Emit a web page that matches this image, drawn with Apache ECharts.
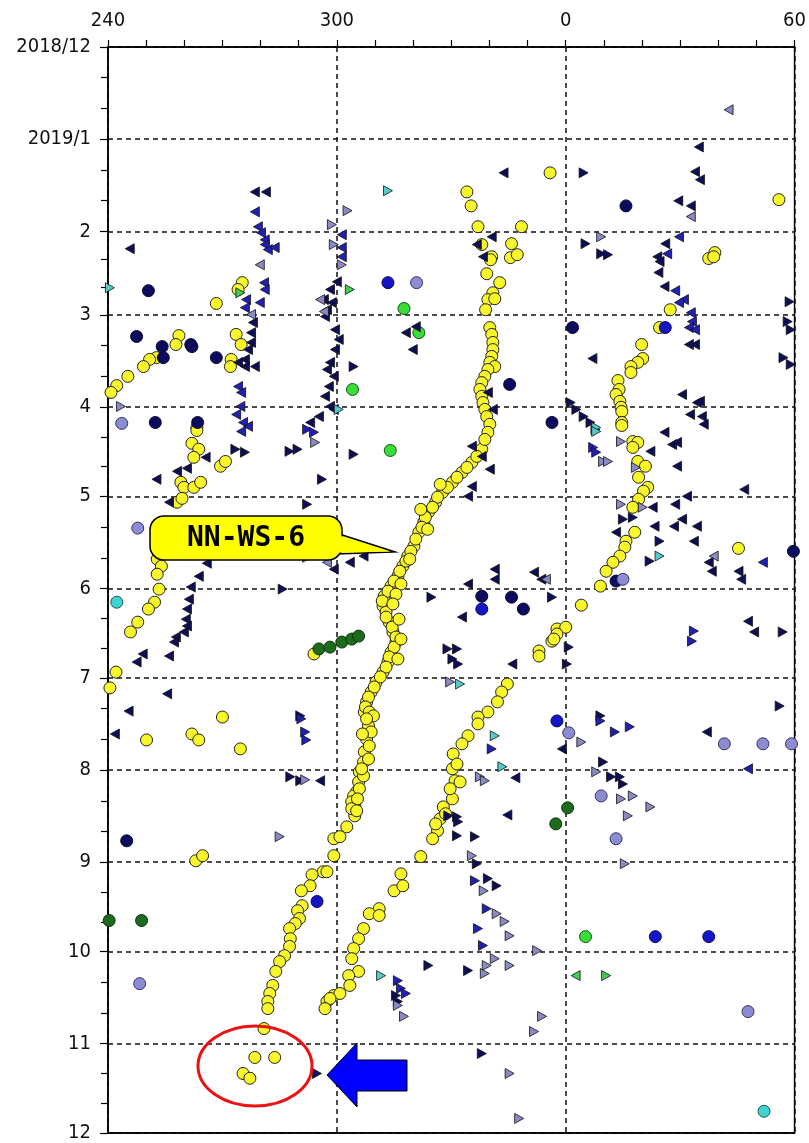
<!DOCTYPE html>
<html>
<head>
<meta charset="utf-8">
<script src="https://cdn.jsdelivr.net/npm/echarts@6/dist/echarts.min.js"></script>
<style>
html,body{margin:0;padding:0;background:#fff;}
#chart{width:809px;height:1143px;}
</style>
</head>
<body>
<div id="chart"></div>
<script>
// ---- axis labels ----
// y: days since 2018-12-01 (time runs downward)
var monthStarts = [0, 31, 62, 90, 121, 151, 182, 212, 243, 274, 304, 335, 365];
var monthLabels = ['2018/12', '2019/1', '2', '3', '4', '5', '6', '7', '8', '9', '10', '11', '12'];
// x: longitude ticks (wrapping through 0)
var lonTicks = [240, 300, 0, 60];

// ---- data: [longitude (deg), day since 2018-12-01] ----
var yellowCircles = [
  [355.9,42.3],[55.9,51.3],[37.5,71.1],[39.1,69.1],[38.8,70.5],[27.4,88.3],[24.6,94.3],[19.9,100],[20.2,104.7],[18.9,106],
  [17.1,107.4],[17.1,109.4],[13.7,112.1],[14,115.1],[13.2,116.8],[14.2,119.1],[14.5,121.1],[14.7,122.5],[14.7,126.2],
  [275.2,79.2],[274.1,81.5],[268.4,86.2],[258.6,97],[257.8,100],[252.7,104.4],[250.9,105],[249.3,107.4],[245.2,110.7],
  [242.3,113.8],[240.8,116.1],[273.6,96.6],[274.9,100],[272.3,105],[272.1,107.4],[263.3,127.9],
  [334.1,48.7],[335.2,53.4],[337,60.4],[348.4,60.4],[338,66.4],[340.6,70.5],[340.3,71.5],[345.8,66.1],[345.5,70.8],
  [347.3,69.8],[339.3,76.2],[342.7,79.2],[340.9,82.6],[339.6,84.9],[341.4,84.6],[339,88.3],
  [340.1,94.3],[340.6,96.6],[340.9,99.3],[340.9,101.7],[340.6,104],[340.1,106],[341.4,107.4],[339.6,108.4],[338.8,110.7],
  [338,112.8],[337.5,115.1],[338,117.4],[338.3,119.5],[338.8,121.8],[339.3,124.2],[340.1,126.8],
  [263.3,128.9],[262,133.2],[263.8,135.2],[262.5,137.9],[269.5,140.9],[270.8,139.3],[259.1,146.3],[259.9,148],[262.5,148],
  [264.3,146.3],[258.1,153],[259.4,151.7],[252.9,172.1],[254,174.5],[252.9,177.2],[253.4,182.2],[252.2,186.6],[250.6,188.9],
  [247.8,193.3],[245.9,196.6],[242.1,210.1],[240.5,215.4],[270,225.2],[294,204],
  [339.6,129.5],[338,135.2],[335.4,139.6],[332.8,143],[330.3,146.3],[327.7,149.7],[325.9,153],[324,156.4],[322.8,159.7],
  [321.5,163.1],[320.2,167.8],[318.6,171.1],[317.3,174.5],[316,177.9],[314.2,181.2],[312.4,184.6],[312.1,187.9],[312.9,189.9],
  [313.7,193.3],[314.7,196.6],[315.5,200],[314.2,203.4],[313.4,206.7],[312.1,210.1],[310.3,213.4],[309,216.8],[307.8,220.1],
  [307.2,223.5],
  [338.8,131.9],[336.7,137.6],[334.1,141.3],[331.5,144.6],[329,148],[326.4,151.3],[325.1,154.7],[323.2,158.1],[322.3,161.4],
  [320.7,165.4],[319.4,169.5],[318.1,172.8],[316.5,176.2],[315,179.5],[313.4,182.9],[311.9,186.2],[312.9,191.6],[314.5,195],
  [315.5,198.3],[315,201.7],[313.7,205],[312.9,208.4],[311.4,211.7],[309.8,215.1],[308.3,218.5],[307.5,221.8],
  [327.1,147],[322,155.4],[316.8,180.5],[323.8,162.1],[319.1,172.1],[315.5,183.9],[314.7,187.2],[316.3,192.3],[316.8,199],[316,205.7],
  [357.7,195.6],[356.4,199.7],[353,203],[353,204.7],[344.7,214.1],[343.2,216.8],[342.1,220.1],[339.6,223.5],[337,225.2],
  [14.7,127.2],[17.6,132.6],[18.9,132.9],[17.6,134.6],[18.9,139.3],[20.9,140.9],[19.1,144.6],[21.5,148],[20.4,149.3],
  [19.1,152],[17.6,154.7],[18.1,163.1],[15.8,166.1],[15.5,168.1],[14.2,171.1],[12.4,173.2],[10.6,176.2],[9.1,181.2],
  [4.1,187.6],[0,195],[357.7,197.3],[356.9,199],[45.3,168.5],
  [250.1,232.9],[262,230.9],[263.8,232.9],[274.7,235.9],[263,273.5],[264.8,271.8],
  [299.2,266.1],[299.2,271.8],[296.4,277.2],[293.5,278.2],[293,281.9],[290.7,283.6],[290.9,288.6],[289.7,290.3],[290.2,292.9],
  [289.1,294.6],[287.6,296.3],[287.8,299.7],[287.6,302.3],[286.3,305.4],[285,307.4],[284,310.7],[283.2,315.4],[282.4,318.1],
  [281.9,320.8],[297.4,320.8],[299.2,318.8],
  [308.5,223.5],[308.3,228.2],[307.8,232.6],[307.2,236.9],[307,240.3],[305.9,243.6],[305.7,247],[305.2,250.3],[304.7,255],
  [304.7,258.4],[309.6,224.8],[309,230.2],[308.5,234.9],[308.3,239.3],[307,245],[304.4,251.7],[303.9,253.7],[305.9,249.3],
  [302.6,262.1],[300.8,265.4],[297.4,277.2],[307.8,225.8],[306.7,230.9],[306.5,242.6],[305.4,252.7],[303.9,256],[305.2,256.7],
  [337,227.5],[334.4,231.5],[332.8,234.2],[330.5,237.6],[330.3,242.6],[331,246.6],[332.3,247],[330.3,252.7],[327.9,255.4],
  [327.1,259.4],[326.4,263.4],[325.1,266.1],[322,272.1],[331.5,241],[329.7,249.3],[328.5,257.7],[325.9,261.1],
  [316.8,277.9],[315,283.6],[317.3,281.9],[311.1,289.6],[308.5,291.3],[311.1,291.9],[307,296.3],[305.7,299.7],[304.4,303],
  [303.9,306.4],[305.7,310.7],[303.1,312.1],[303.4,315.4],[300.8,318.1],[298.2,319.8],
  [281.9,323.2],[296.9,323.2],[280.9,329.9],[278.5,339.6],[283.7,339.6],[275.4,345],[277.2,346.6]
];
var navyCircles = [
  [15.8,53.4],[1.8,94.3],[356.4,126.2],[250.6,81.9],[247.5,97.3],[254.2,100.7],[254.5,104.4],[261.7,100],[262,100.7],
  [268.4,104.4],[252.4,126.2],[263.5,126.2],[345.3,113.4],[338,184.6],[345.8,184.9],[348.9,188.9],[59.7,169.5],[13.2,179.5],
  [244.9,266.8]
];
var blueCircles = [
  [26.1,94.3],[313.4,79.2],[338,188.9],[294.8,287.2],[357.7,226.5],[23.5,299],[37.5,299]
];
var lavenderCircles = [
  [320.9,79.2],[243.6,126.5],[247.8,161.7],[15,178.9],[0.8,230.5],[41.6,234.2],[51.7,234.2],[59.2,234.2],[9.3,251.7],
  [13.2,266.1],[248.3,314.8],[47.8,324.2]
];
var greenCircles = [[317.6,87.9],[321.5,96],[304.1,115.1],[314,135.6],[5.2,299]];
var darkGreenCircles = [
  [295.3,202.3],[298.2,201.7],[301.3,200],[303.9,199],[305.7,198],[240.3,293.6],[248.8,293.6],[0.5,255.7],[357.4,261.1]
];
var cyanCircles = [[242.3,186.6],[52,357.7]];

var navyLeft = [
  [34.9,33.6],[343.7,42.3],[33.9,41.9],[35.2,44.6],[29.5,51.7],[32.8,53.4],[26.1,66.1],[24,70.5],[24.6,72.1],[24.3,75.8],
  [25.9,80.5],[32.3,100],[33.9,100],[7,104.7],[30.5,116.8],[34.4,119.5],[35.2,119.1],[32.6,123.5],[35.7,124.2],[36.2,126.8],
  [278.5,48.7],[281.4,48.7],[245.7,67.8],[278,92.6],[277.5,96],[277.5,99.3],[276.7,101.7],[275.9,105],[274.1,106],[275.9,107.4],
  [278.5,107.4],
  [300,78.9],[298.2,81.5],[296.6,84.9],[297.4,88.3],[298.7,85.9],[296.9,90.6],[299.5,95],[300.5,98.3],[299.5,101.7],[298.2,106],
  [297.4,108.4],[299.2,110.7],[297.9,114.1],[296.9,117.4],[298.2,120.8],[299.2,121.8],[293,126.2],[295.3,124.2],
  [336.7,66.4],[338.3,70.5],[340.6,63.8],[318.1,96],[320.7,94],[319.9,101.7],[339.6,116.1],[340.9,121.8],
  [252.7,145.3],[258.1,142.6],[260.7,141.6],[265.6,137.9],[256,153],[265.9,173.5],[263.8,177.9],[261.7,181.5],[261.2,185.6],
  [260.7,188.9],[260.4,192.3],[260.7,194.6],[259.9,196.6],[257.8,198.3],[257.3,200],[256,204.7],[249.1,204],[247.5,206.7],
  [255.5,217.4],[245.4,223.2],[241.8,230.9],
  [335.4,134.2],[338,137.6],[340.1,141.9],[335.4,147.7],[334.4,151],[299.2,175.5],[303.4,173.2],[307,171.1],[341.4,175.5],
  [341.4,178.9],[334.4,180.5],[332.8,191.6],[351.7,176.5],[353.6,178.9],[346,207.4],
  [22.2,135.9],[25.9,129.5],[27.9,133.6],[29.2,132.9],[29.2,140.9],[31.8,151],[28.7,153.7],[22.8,154.7],[30.5,158.7],
  [34.4,161.1],[23.3,161.1],[33.6,166.1],[28.4,161.1],[13.2,163.1],[37.5,173.2],[38.3,176.2],[45.3,176.2],[46,178.9],
  [46.8,148.7],[47.8,193],[49.4,196.6],
  [295.6,246.6],[346.8,245.6],[344.7,258.1],[359,235.9],[37,230.2]
];
var blueLeft = [
  [29.7,63.8],[26.6,69.5],[28.7,81.9],[31,84.9],[29.7,85.9],[32.8,89.3],[33.1,92.3],[32.3,94.3],[33.9,95],
  [278.5,55.4],[279.3,60.4],[280.1,62.4],[281.1,64.8],[281.1,66.4],[281.9,68.1],[283.7,67.4],[280.9,79.2],[281.1,81.5],
  [276.2,84.9],[275.9,87.6],[279.8,85.9],[274.1,114.1],[274.9,116.1],[274.7,120.8],[273.6,123.5],[275.4,126.2],[276.7,127.5],
  [274.9,129.2],[301.3,63.1],[301.3,67.4],[301.3,70.5],[51.7,173.2],[47.8,242.6]
];
var lavenderLeft = [
  [42.7,21.1],[32.8,57],[279.8,73.2],[277.5,89.9],[295.6,84.9],[296.6,88.9],[297.4,173.2],[38.8,171.1],[354.8,178.9]
];
var greenLeft = [[2.6,312.1]];

var navyRight = [
  [4.7,42.3],[5.2,66.1],[9.3,69.5],[11.1,69.8],[58.7,85.6],[58.2,92.3],[59,95],[57.1,104.4],[59,106.7],[1.3,119.5],
  [2.8,121.8],[4.7,124.2],[6.5,126.2],[304.4,107.4],[273.4,135.2],[275.9,136.2],[287.6,135.9],[289.7,135.2],[296.1,145.3],
  [292.2,153.7],[285.8,182.2],[290.4,224.8],[304.4,136.9],[324.8,184.9],[329,202.3],[331.5,202.3],[330.3,205.7],[331.8,207.4],
  [356.4,184.9],[15,158.7],[17.6,158.1],[24.6,166.1],[22,172.8],[56.9,196.6],[0.8,201.7],[0.3,207.4],[56.1,221.5],[9.1,224.8],
  [287.8,245.3],[290.4,246.6],[329.2,258.4],[331.5,258.7],[331.8,260.4],[331.5,265.1],[336.2,265.4],[336.7,274.5],[339.6,279.5],
  [341.9,281.9],[324,308.7],[334.4,310.4],[9.8,240.3],[11.9,245.3],[14.2,245.3],[15,247.7],[294.8,345],[338,338.3],
  [315.5,318.8],[316,320.8]
];
var blueRight = [
  [292.2,128.5],[294,129.5],[7.2,134.6],[8,136.2],[7.8,128.5],[33.6,196.3],[33.1,199.7],[290.7,225.8],[291.7,230.2],[292,232.9],
  [340.6,235.9],[336.2,280.2],[339.3,289.6],[337,296.3],[338.3,302],[316,313.8],[316.8,316.4],[318.1,318.1],[9.1,226.5],
  [12.9,230.2],[16.8,228.5]
];
var lavenderRight = [
  [9.3,63.8],[302.8,55],[298.7,59.7],[299.2,66.4],[301.3,73.2],[243.4,120.8],[294.3,132.9],[292.2,171.5],[14.5,132.6],
  [9.8,139.3],[11.1,139.3],[18.4,141.3],[14.5,153.7],[20.2,154.7],[291.7,246.3],[285,265.4],[329.7,213.4],[337.5,245.3],
  [338.8,246.6],[335.4,271.8],[338.5,283.6],[341.9,291.3],[344,293.9],[345.3,298.7],[352.5,303.7],[341.4,306.4],[339.3,308.7],
  [338.8,311.4],[345.3,308.7],[4.1,233.6],[8,243.6],[14.5,252.7],[17.6,251.7],[16.3,258.4],[22.2,255.4],[15.5,274.5],
  [316,322.1],[317.6,325.8],[353.8,325.8],[351.7,330.9],[345.3,345],[347.8,360.1]
];
var cyanRight = [
  [240.5,80.9],[313.4,48.3],[300.5,121.8],[8,127.9],[8,129.2],[24.6,171.1],[332.3,214.1],[341.4,231.5],[343.4,241.9],[311.6,312.1]
];
var greenRight = [[274.7,82.6],[303.4,81.5],[10.6,312.1]];

// ---- build ----
function unwrap(arr) {
  return arr.map(function (p) { return [p[0] < 180 ? p[0] + 360 : p[0], p[1]]; });
}
function circles(name, data, fill, stroke) {
  return { name: name, type: 'scatter', data: unwrap(data), symbol: 'circle', symbolSize: 12,
    itemStyle: { color: fill, borderColor: stroke, borderWidth: 1, opacity: 1 }, z: 3 };
}
function tri(name, data, fill, dir) {
  return { name: name, type: 'scatter', data: unwrap(data), symbol: 'triangle', symbolSize: [10, 9],
    symbolRotate: dir === 'left' ? 90 : -90,
    itemStyle: { color: fill, borderColor: '#111', borderWidth: 0.8, opacity: 1 }, z: 4 };
}

var minorTicks = [];
for (var i = 0; i < monthStarts.length - 1; i++) {
  var len = monthStarts[i + 1] - monthStarts[i];
  minorTicks.push(monthStarts[i] + len / 3, monthStarts[i] + 2 * len / 3);
}

var labelFont = { fontFamily: '"Liberation Sans Narrow", "DejaVu Sans Condensed", sans-serif', fontSize: 20, color: '#111' };

var chart = echarts.init(document.getElementById('chart'), null, { renderer: 'canvas' });
var option = {
  animation: false,
  backgroundColor: '#fff',
  grid: { left: 108, top: 47, right: 4, bottom: 8, show: true, borderColor: '#000', borderWidth: 1.5, backgroundColor: 'transparent' },
  xAxis: [
    { type: 'value', position: 'top', min: 240, max: 420, interval: 10,
      axisLine: { show: true, onZero: false, lineStyle: { color: '#000', width: 1.5 } },
      axisTick: { show: true, length: 7, lineStyle: { color: '#000', width: 1.2 } },
      axisLabel: Object.assign({ show: true, margin: 16, customValues: lonTicks.map(function (v) { return v < 180 ? v + 360 : v; }),
        formatter: function (v) { return String(Math.round(v) % 360); } }, labelFont),
      splitLine: { show: false } },
    { type: 'value', position: 'bottom', min: 240, max: 420, interval: 60,
      axisLine: { show: true, onZero: false, lineStyle: { color: '#000', width: 1.5 } },
      axisTick: { show: false }, axisLabel: { show: false },
      splitLine: { show: true, lineStyle: { color: '#111', width: 1.5, type: [5, 4] } } }
  ],
  yAxis: [
    { type: 'value', inverse: true, min: 0, max: 365, position: 'left',
      axisLine: { show: true, onZero: false, lineStyle: { color: '#000', width: 1.5 } },
      axisTick: { show: true, length: 8, customValues: monthStarts, lineStyle: { color: '#000', width: 1.2 } },
      axisLabel: Object.assign({ show: true, margin: 17, customValues: monthStarts,
        formatter: function (v) { var k = monthStarts.indexOf(Math.round(v)); return k >= 0 ? monthLabels[k] : ''; } }, labelFont),
      splitLine: { show: true, lineStyle: { color: '#111', width: 1.5, type: [5, 4] } } },
    { type: 'value', inverse: true, min: 0, max: 365, position: 'left', offset: 0,
      axisLine: { show: false, onZero: false },
      axisTick: { show: true, length: 7, customValues: minorTicks, lineStyle: { color: '#000', width: 1.2 } },
      axisLabel: { show: false }, splitLine: { show: false } }
  ],
  series: [
    circles('yellow', yellowCircles, '#f9f72a', '#222'),
    circles('navy', navyCircles, '#0c0c5e', '#0a0a30'),
    circles('blue', blueCircles, '#1414c8', '#0a0a50'),
    circles('lavender', lavenderCircles, '#8c8cd2', '#333366'),
    circles('green', greenCircles, '#38dd38', '#115511'),
    circles('darkgreen', darkGreenCircles, '#1d6b1d', '#0b330b'),
    circles('cyan', cyanCircles, '#3fd4d0', '#225555'),
    tri('navyL', navyLeft, '#0e0e58', 'left'),
    tri('blueL', blueLeft, '#2020b4', 'left'),
    tri('lavL', lavenderLeft, '#8a8ac4', 'left'),
    tri('greenL', greenLeft, '#44cc55', 'left'),
    tri('navyR', navyRight, '#0e0e58', 'right'),
    tri('blueR', blueRight, '#2020b4', 'right'),
    tri('lavR', lavenderRight, '#8a8ac4', 'right'),
    tri('cyanR', cyanRight, '#55cccc', 'right'),
    tri('greenR', greenRight, '#44cc55', 'right')
  ],
  graphic: [
    { type: 'polygon', z: 100, shape: { points: [[336, 533], [395, 552], [336, 554]] },
      style: { fill: '#ffff00', stroke: '#000', lineWidth: 1.5 } },
    { type: 'rect', z: 101, shape: { x: 150, y: 516, width: 192, height: 44, r: 14 },
      style: { fill: '#ffff00', stroke: '#000', lineWidth: 1.5 } },
    { type: 'polygon', z: 102, shape: { points: [[339, 535.5], [390, 551.5], [339, 552.5]] },
      style: { fill: '#ffff00', stroke: null } },
    { type: 'text', z: 103, x: 246, y: 539,
      style: { text: 'NN-WS-6', fill: '#000', font: 'bold 28px "DejaVu Sans Mono", monospace', align: 'center', verticalAlign: 'middle' } },
    { type: 'ellipse', z: 100, shape: { cx: 255, cy: 1066, rx: 57, ry: 40 },
      style: { fill: null, stroke: '#ee1111', lineWidth: 3 } },
    { type: 'polygon', z: 100, shape: { points: [[327, 1075], [357, 1043], [357, 1060], [407, 1060], [407, 1091], [357, 1091], [357, 1107]] },
      style: { fill: '#0000ff', stroke: '#000', lineWidth: 1 } }
  ]
};
chart.setOption(option);
</script>
</body>
</html>
